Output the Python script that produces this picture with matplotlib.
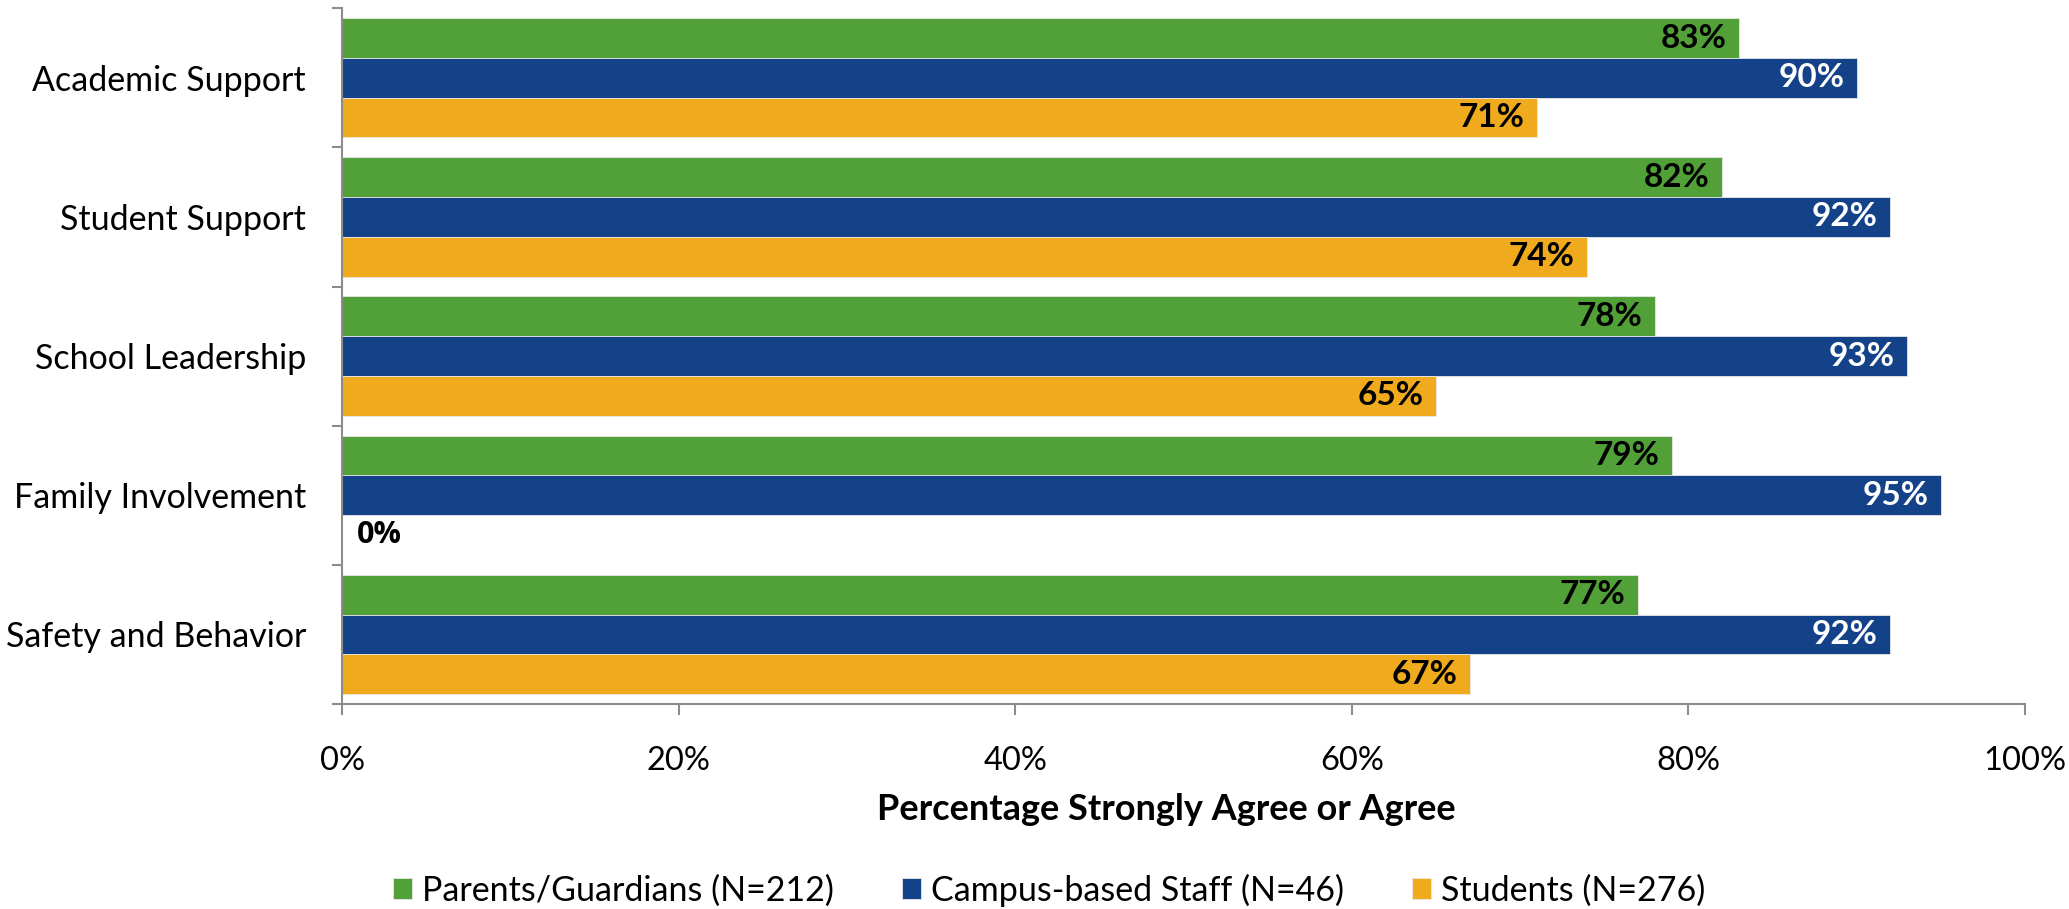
import matplotlib
matplotlib.use("Agg")
import matplotlib.pyplot as plt
import numpy as np

# data
categories = ['Academic Support', 'Student Support', 'School Leadership',
              'Family Involvement', 'Safety and Behavior']
series_names = ['Parents/Guardians (N=212)', 'Campus-based Staff (N=46)', 'Students (N=276)']
parents = [83, 82, 78, 79, 77]
staff = [90, 92, 93, 95, 92]
students = [71, 74, 65, 0, 67]
x_ticks = [0, 20, 40, 60, 80, 100]
x_label = 'Percentage Strongly Agree or Agree'

colors = ['#52A038', '#134289', '#F0AA1E']
label_colors = ['black', 'white', 'black']

plt.rcParams['font.family'] = ['Lato', 'DejaVu Sans']

fig = plt.figure(figsize=(20.69, 9.09), dpi=100)
ax = fig.add_axes([0.1653, 0.2255, 0.8134, 0.7655])

bar_h = 2 / 7
y = np.arange(len(categories))
all_series = [parents, staff, students]

for i, vals in enumerate(all_series):
    pos = y + (i - 1) * bar_h
    ax.barh(pos, vals, height=bar_h, color=colors[i], edgecolor='#e8e8e8',
            linewidth=0.6, label=series_names[i], zorder=2)
    for p, v in zip(pos, vals):
        if v == 0:
            # zero value sits just outside the (empty) bar
            ax.annotate(f'{v}%', (v, p), xytext=(11, 0), textcoords='offset points',
                        ha='left', va='center', fontsize=22, fontweight='bold',
                        color='black', family=['Open Sans', 'DejaVu Sans'])
        else:
            ax.annotate(f'{v}%', (v, p), xytext=(-9, 0), textcoords='offset points',
                        ha='right', va='center', fontsize=24, fontweight='bold',
                        color=label_colors[i])

ax.set_xlim(0, 100)
ax.set_ylim(len(categories) - 0.5, -0.5)
ax.set_xticks(x_ticks)
ax.set_xticklabels([f'{t}%' for t in x_ticks], fontsize=23.5)

# category labels between boundary ticks
ax.set_yticks(np.arange(len(categories) + 1) - 0.5)
ax.set_yticklabels([])
ax.set_yticks(y, minor=True)
ax.set_yticklabels(categories, minor=True, fontsize=24.5)
ax.tick_params(axis='y', which='minor', length=0, pad=26)
ax.tick_params(axis='y', which='major', length=7, width=1.5, color='#8c8c8c')
ax.tick_params(axis='x', length=8, width=1.5, color='#8c8c8c', pad=22)

for s in ['top', 'right']:
    ax.spines[s].set_visible(False)
for s in ['left', 'bottom']:
    ax.spines[s].set_color('#8c8c8c')
    ax.spines[s].set_linewidth(1.5)

ax.set_xlabel(x_label, fontsize=26, fontweight='bold')
ax.xaxis.set_label_coords(0.49, -0.128)

fig.legend(loc='lower center', bbox_to_anchor=(0.507, -0.031), ncol=3, frameon=False,
           fontsize=24.5, handlelength=0.55, handleheight=0.55, handletextpad=0.3,
           columnspacing=2.0)

fig.savefig('out.png', dpi=100)
